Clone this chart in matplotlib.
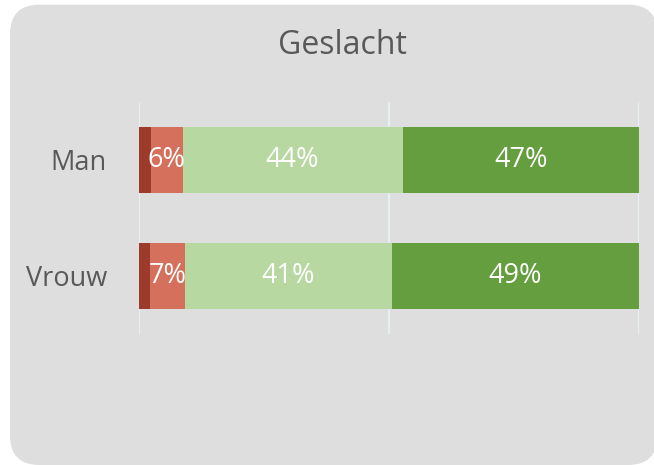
import matplotlib.pyplot as plt
from matplotlib.patches import FancyBboxPatch

groups = ["Man", "Vrouw"]
very_neg = [2.3, 2.2]
neg = [6.4, 7.0]
pos = [44.0, 41.4]
very_pos = [47.3, 49.4]

colors = ["#9C3B2C", "#D4705B", "#B8D8A2", "#659E3F"]
series = [very_neg, neg, pos, very_pos]
show_label = [False, True, True, True]

plt.rcParams['font.family'] = ['Open Sans', 'DejaVu Sans']

fig = plt.figure(figsize=(6.54, 4.65), dpi=100)
fig.patch.set_facecolor("white")

# rounded grey panel behind the chart
panel = FancyBboxPatch((10 / 654, 0.0), 0.99, 0.99,
                       boxstyle="round,pad=0,rounding_size=0.045",
                       transform=fig.transFigure, facecolor="#DEDEDE",
                       edgecolor="none", zorder=-5, mutation_aspect=654 / 465)
fig.add_artist(panel)

ax = fig.add_axes([139 / 654, 1 - 334 / 465, 500 / 654, 232 / 465])
ax.set_facecolor("none")
ax.set_zorder(2)

ypos = list(range(len(groups)))
left = [0.0] * len(groups)
for vals, col, lab in zip(series, colors, show_label):
    bars = ax.barh(ypos, vals, left=left, height=0.57, color=col, zorder=2)
    if lab:
        for b, v in zip(bars, vals):
            ax.text(b.get_x() + b.get_width() / 2, b.get_y() + b.get_height() / 2,
                    "%d%%" % round(v), ha="center", va="center",
                    color="white", fontsize=19.5, zorder=3)
    left = [l + v for l, v in zip(left, vals)]

ax.set_xlim(0, 100)
ax.set_ylim(1.5, -0.5)
ax.set_xticks([0, 50, 100])
ax.xaxis.grid(True, color="#E4F1F2", linewidth=1.5, zorder=1)
ax.set_axisbelow(True)
ax.tick_params(axis="x", length=0, labelbottom=False)
ax.tick_params(axis="y", length=0, pad=23)
ax.set_yticks(ypos)
ax.set_yticklabels(groups, fontsize=19.5, color="#595959")
for s in ax.spines.values():
    s.set_visible(False)

fig.text(0.523, 1 - 45 / 465, "Geslacht", ha="center", va="center",
         fontsize=23, color="#595959")

plt.savefig("out.png", dpi=100)
